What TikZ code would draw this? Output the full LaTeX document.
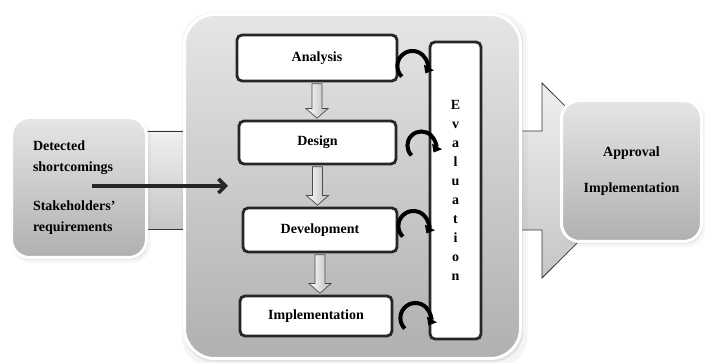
\documentclass[tikz,border=0pt]{standalone}
\usepackage{fontspec}
\setmainfont{Liberation Serif}
\usetikzlibrary{arrows.meta,calc,shadows}
\tikzset{
  txt/.style={font=\fontsize{14}{21}\selectfont\bfseries},
  glossy/.style={txt,draw=white,line width=3pt,top color=gray!20,bottom color=gray!62,rounded corners=18pt,
    drop shadow={opacity=.08,shadow xshift=2pt,shadow yshift=-3pt,shadow scale=1.03},
    drop shadow={opacity=.18,shadow xshift=1pt,shadow yshift=-1.5pt,shadow scale=1.01}},
  box/.style={txt,draw=black!85,fill=white,line width=2.8pt,rounded corners=5pt,inner sep=0pt},
  band/.style={draw=black!80,line width=0.8pt,top color=gray!12,bottom color=gray!45},
  blk/.style={draw=black!70,line width=0.7pt,left color=white,right color=gray!55},
  circ/.style={draw=black,line width=4pt,-{Triangle[length=7pt,width=11pt]}},
  arr/.style={draw=black!85,line width=3.6pt,-{Straight Barb[length=7pt,width=14pt]}},
}
\begin{document}
\begin{tikzpicture}[x=1pt,y=-1pt]
\useasboundingbox (0,0) rectangle (705,363);
% bands behind the boxes
\draw[band] (140,131) rectangle (190,229);
\draw[band] (515,131) -- (542,131) -- (542,83) -- (640,180.5) -- (542,278) -- (542,230) -- (515,230) -- cycle;
% containers
\node[glossy,rounded corners=30pt,minimum width=336pt,minimum height=344pt] (main) at (352.5,186.5) {};
\node[glossy,minimum width=135pt,minimum height=140pt,text width=92pt,align=left] (src) at (79,187.5)
  {Detected\\shortcomings\\[18pt]Stakeholders'\\requirements};
\node[glossy,minimum width=140pt,minimum height=141pt,align=center] (appr) at (631.5,171) {Approval\\[15pt]Implementation};
% stages
\node[box,minimum width=160pt,minimum height=46pt] (ana) at (317,58) {Analysis};
\node[box,minimum width=157pt,minimum height=43pt] (des) at (317.5,142.5) {Design};
\node[box,minimum width=154pt,minimum height=44pt] (dev) at (320,230) {Development};
\node[box,minimum width=152pt,minimum height=40pt] (imp) at (316,316) {Implementation};
\node[box,minimum width=51pt,minimum height=297pt,align=center,font=\fontsize{14}{19}\selectfont\bfseries] (eval) at (455.5,190.5)
  {E\\v\\a\\l\\u\\a\\t\\i\\o\\n};
% block arrows between stages
\foreach \a/\b in {ana/des,des/dev,dev/imp}
  \draw[blk] let \p1=(\a.south),\p2=(\b.north) in
    (\x1-5pt,\y1-1.4pt) -- (\x1-5pt,\y2+11pt) -- (\x1-11pt,\y2+11pt) -- (\x1,\y2+1.4pt)
    -- (\x1+11pt,\y2+11pt) -- (\x1+5pt,\y2+11pt) -- (\x1+5pt,\y1-1.4pt) -- cycle;
% evaluation loops
\draw[circ] ([shift={(14,8)}]ana.east) ++(135:15) arc[start angle=135,end angle=390,radius=15];
\draw[circ] ([shift={(24,3)}]des.east) ++(135:14) arc[start angle=135,end angle=390,radius=14];
\draw[circ] ([shift={(15,-4)}]dev.east) ++(135:15) arc[start angle=135,end angle=390,radius=15];
\draw[circ] ([shift={(22,2)}]imp.east) ++(135:15) arc[start angle=135,end angle=390,radius=15];
% input
\coordinate (inS) at (92,186);
\coordinate (inE) at (228,186);
\draw[arr] (inS) -- (inE);
\end{tikzpicture}
\end{document}
